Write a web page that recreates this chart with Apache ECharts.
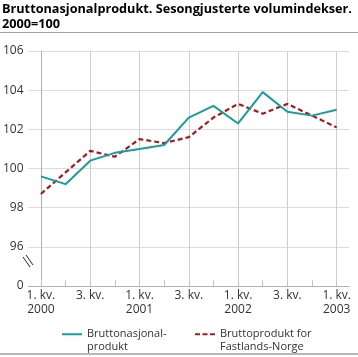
<!DOCTYPE html>
<html><head><meta charset="utf-8">
<script src="https://cdn.jsdelivr.net/npm/echarts@6/dist/echarts.min.js"></script>
<style>html,body{margin:0;padding:0;background:#fff}#c{width:358px;height:357px}</style>
</head><body><div id="c"></div>
<script>
// Quarters 2000K1 .. 2003K1
const categories = ['2000K1','2000K2','2000K3','2000K4','2001K1','2001K2','2001K3','2001K4','2002K1','2002K2','2002K3','2002K4','2003K1'];
// Bruttonasjonalprodukt
const bnp = [99.6, 99.2, 100.4, 100.8, 101.0, 101.2, 102.6, 103.2, 102.3, 103.9, 102.9, 102.7, 103.0];
// Bruttoprodukt for Fastlands-Norge
const fastland = [98.7, 99.8, 100.9, 100.6, 101.5, 101.3, 101.6, 102.6, 103.3, 102.8, 103.3, 102.7, 102.1];
// y-axis: broken axis, the lowest tick (94) is shown as 0
const yMin = 94, yMax = 106, yStep = 2;
const yBreakLabel = '0';
// vertical grid lines at the labelled quarters (category indices)
const gridQuarterIdx = [0, 2, 4, 6, 8, 10, 12];
const seriesNames = ['Bruttonasjonal-\nprodukt', 'Bruttoprodukt for\nFastlands-Norge'];
const titleText = 'Bruttonasjonalprodukt. Sesongjusterte volumindekser.\n2000=100';

const FONT = 'Open Sans';
const TEAL = '#1a9c98', RED = '#a8191c';

const legendText = {fontFamily: FONT, fontSize: 11, color: '#333', lineHeight: 12.5};
const chart = echarts.init(document.getElementById('c'), null, {renderer: 'canvas'});
chart.setOption({
  animation: false,
  backgroundColor: '#fff',
  title: {
    text: titleText, left: 2, top: 1, padding: 0,
    textStyle: {fontFamily: FONT, fontWeight: 'bold', fontSize: 12.7, lineHeight: 15.8, color: '#000'}
  },
  grid: {left: 27, right: 9, top: 51, bottom: 71, containLabel: false},
  legend: [
    {data: [{name: seriesNames[0], icon: 'rect'}], left: 62, top: 315.5, padding: 0,
     itemWidth: 20, itemHeight: 2, itemGap: 0,
     formatter: n => ' \n' + n, textStyle: legendText},
    {data: [{name: seriesNames[1], icon: 'path://M0,0h5v2h-5z M7.5,0h5v2h-5z M15,0h5v2h-5z'}], left: 195, top: 315.5, padding: 0,
     itemWidth: 20, itemHeight: 2, itemGap: 0,
     formatter: n => ' \n' + n, textStyle: legendText}
  ],
  xAxis: [{
    type: 'category', data: categories, boundaryGap: true,
    axisLine: {lineStyle: {color: '#b0b0b0'}},
    axisTick: {show: true, alignWithLabel: true, inside: true, length: 6, interval: 0, lineStyle: {color: '#c4c4c4'}},
    axisLabel: {
      interval: 1, color: '#333', fontFamily: FONT, fontSize: 12, lineHeight: 14.5, margin: 2,
      formatter: v => { const p = v.split('K'); return p[1] === '1' ? '1. kv.\n' + p[0] : p[1] + '. kv.'; }
    },
    splitLine: {show: false}
  }, {
    // hidden helper axis with the same extent as the category bands; only draws the vertical grid lines
    type: 'value', position: 'bottom', min: -0.5, max: categories.length - 0.5,
    axisLine: {show: false}, axisLabel: {show: false},
    axisTick: {show: false, customValues: gridQuarterIdx},
    splitLine: {show: true, lineStyle: {color: '#cdcdcd', width: 1}}
  }],
  yAxis: {
    type: 'value', min: yMin, max: yMax, interval: yStep,
    axisLine: {show: true, lineStyle: {color: '#b0b0b0'}},
    axisTick: {show: false},
    axisLabel: {color: '#333', fontFamily: FONT, fontSize: 12, margin: 5,
      formatter: v => v === yMin ? yBreakLabel : String(v)},
    splitLine: {lineStyle: {color: '#dcdcdc'}}
  },
  series: [
    {name: seriesNames[0], type: 'line', data: bnp, symbol: 'none', z: 4,
     lineStyle: {color: TEAL, width: 2}, itemStyle: {color: TEAL}},
    {name: seriesNames[1], type: 'line', data: fastland, symbol: 'none', z: 3,
     lineStyle: {color: RED, width: 2.2, type: [5, 3]}, itemStyle: {color: RED}}
  ],
  graphic: [
    {type: 'line', shape: {x1: 0, y1: 32.5, x2: 358, y2: 32.5}, style: {stroke: '#a0a0a0', lineWidth: 1}},
    {type: 'line', shape: {x1: 0, y1: 354, x2: 358, y2: 354}, style: {stroke: '#a0a0a0', lineWidth: 1.5}},
    {type: 'rect', shape: {x: 24, y: 253, width: 8, height: 17}, style: {fill: '#fff'}, z: 100},
    {type: 'line', shape: {x1: 23, y1: 257, x2: 30, y2: 267}, style: {stroke: '#222', lineWidth: 1}, z: 101},
    {type: 'line', shape: {x1: 26, y1: 255, x2: 33, y2: 265}, style: {stroke: '#222', lineWidth: 1}, z: 101}
  ]
});
</script></body></html>
